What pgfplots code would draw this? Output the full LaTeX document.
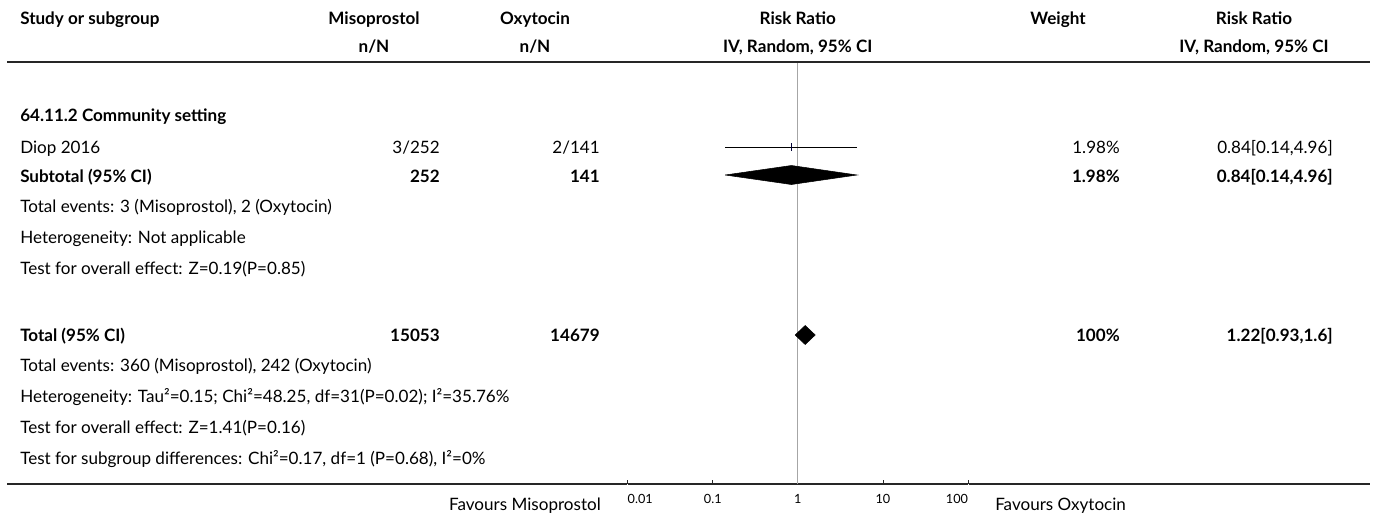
\documentclass[border=0pt]{standalone}
\usepackage{pgfplots}
\pgfplotsset{compat=1.18}
\usepackage{fontspec}
\setmainfont{Lato}
\newcommand{\fs}{\fontsize{12.8}{15}\selectfont}
\begin{document}
\begin{tikzpicture}[font=\fs,
  L/.style={anchor=mid west,inner sep=0pt,yshift=-2.25pt},
  R/.style={anchor=mid east,inner sep=0pt,yshift=-2.25pt},
  C/.style={anchor=mid,inner sep=0pt,yshift=-2.25pt},
  B/.style={font=\fs\bfseries}]
\begin{axis}[at={(470.775pt,-363pt)},anchor=south west,scale only axis,
  width=255.2pt,height=316.5pt,
  xmode=log,xmin=0.01,xmax=100,ymin=-484,ymax=-62,
  axis x line*=bottom,axis y line=none,
  x axis line style={-,line width=1.4pt,black!85},
  xtick={0.01,0.1,1,10,100},
  xticklabels={{\makebox[0pt][l]{0.01}},0.1,1,10,{\makebox[0pt][r]{100}}},
  xminorticks=false,
  xtick align=inside,major tick length=3pt,
  tick style={black!85,line width=0.6pt},
  xticklabel style={font=\fontsize{9.5}{11}\selectfont,anchor=mid,yshift=-12pt},
  /pgf/number format/assume math mode=true,
  clip=false]
\addplot[gray!70,line width=0.8pt] coordinates {(1,-484) (1,-62)};
\addplot[black,line width=0.75pt] coordinates {(0.14,-147) (4.96,-147)};
\addplot[only marks,mark=|,mark size=3pt,mark options={line width=0.8pt,draw=black!80!blue}] coordinates {(0.84,-147)};
\addplot[fill=black,draw=black] coordinates {(0.14,-175) (0.84,-165.5) (4.96,-175) (0.84,-184.5) (0.14,-175)};
\addplot[fill=black,draw=black] coordinates {(0.93,-335) (1.22,-325.5) (1.6,-335) (1.22,-344.5) (0.93,-335)};
\end{axis}
\begin{scope}[x=0.75pt,y=-0.75pt]
\path[use as bounding box] (0,0) rectangle (1375,515);
% rules
\draw[line width=1.2pt,black!85] (7,62) -- (1370,62);
\draw[line width=0.9pt,black!85] (7,484) -- (627,484);
\draw[line width=0.9pt,black!85] (969,484) -- (1370,484);
% header
\node[L,B] at (20,18) {Study or subgroup};
\node[C,B] at (374,18) {Misoprostol};
\node[C,B] at (374,46) {n/N};
\node[C,B] at (535,18) {Oxytocin};
\node[C,B] at (535,46) {n/N};
\node[C,B] at (797.7,18) {Risk Ratio};
\node[C,B] at (797.7,46) {IV, Random, 95\% CI};
\node[C,B] at (1058,18) {Weight};
\node[C,B] at (1254,18) {Risk Ratio};
\node[C,B] at (1254,46) {IV, Random, 95\% CI};
% rows
\node[L,B] at (20,115) {64.11.2 Community setting};
\node[L] at (20,147) {Diop 2016};
\node[R] at (440,147) {3/252};
\node[R] at (600,147) {2/141};
\node[R] at (1120,147) {1.98\%};
\node[R] at (1333,147) {0.84[0.14,4.96]};
\node[L,B] at (20,176) {Subtotal (95\% CI)};
\node[R,B] at (440,176) {252};
\node[R,B] at (600,176) {141};
\node[R,B] at (1120,176) {1.98\%};
\node[R,B] at (1333,176) {0.84[0.14,4.96]};
\node[L] at (20,206) {Total events: 3 (Misoprostol), 2 (Oxytocin)};
\node[L] at (20,237) {Heterogeneity: Not applicable};
\node[L] at (20,268) {Test for overall effect: Z=0.19(P=0.85)};
\node[L,B] at (20,335) {Total (95\% CI)};
\node[R,B] at (440,335) {15053};
\node[R,B] at (600,335) {14679};
\node[R,B] at (1120,335) {100\%};
\node[R,B] at (1333,335) {1.22[0.93,1.6]};
\node[L] at (20,365) {Total events: 360 (Misoprostol), 242 (Oxytocin)};
\node[L] at (20,396) {Heterogeneity: Tau²=0.15; Chi²=48.25, df=31(P=0.02); I²=35.76\%};
\node[L] at (20,427) {Test for overall effect: Z=1.41(P=0.16)};
\node[L] at (20,458) {Test for subgroup differences: Chi²=0.17, df=1 (P=0.68), I²=0\%};
\node[R] at (601,504) {Favours Misoprostol};
\node[L] at (995,504) {Favours Oxytocin};
\end{scope}
\end{tikzpicture}
\end{document}
